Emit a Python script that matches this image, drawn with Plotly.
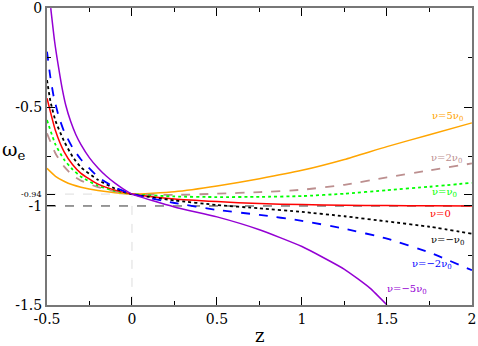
import plotly.graph_objects as go

# omega_e(z) for each nu
z_p5 = [-0.5, -0.45, -0.4, -0.35, -0.3, -0.2, -0.1, 0, 0.25, 0.5, 0.75, 1.0, 1.25, 1.5, 1.75, 2.0]
w_p5 = [-0.81, -0.85, -0.875, -0.893, -0.905, -0.922, -0.933, -0.94, -0.928, -0.899, -0.862, -0.82, -0.765, -0.70, -0.64, -0.58]

z_p2 = [-0.5, -0.45, -0.4, -0.35, -0.3, -0.2, -0.1, 0, 0.25, 0.5, 0.75, 1.0, 1.25, 1.5, 1.75, 2.0]
w_p2 = [-0.633, -0.735, -0.80, -0.845, -0.872, -0.905, -0.926, -0.94, -0.944, -0.938, -0.93, -0.918, -0.893, -0.855, -0.82, -0.785]

z_p1 = [-0.5, -0.45, -0.4, -0.35, -0.3, -0.2, -0.1, 0, 0.25, 0.5, 0.75, 1.0, 1.25, 1.5, 1.75, 2.0]
w_p1 = [-0.566, -0.69, -0.765, -0.815, -0.852, -0.898, -0.924, -0.94, -0.952, -0.955, -0.954, -0.95, -0.938, -0.92, -0.903, -0.883]

z_0 = [-0.5, -0.45, -0.4, -0.35, -0.3, -0.2, -0.1, 0, 0.25, 0.5, 0.75, 1.0, 1.25, 1.5, 1.75, 2.0]
w_0 = [-0.455, -0.62, -0.725, -0.79, -0.835, -0.89, -0.92, -0.94, -0.965, -0.978, -0.988, -0.993, -0.996, -0.998, -0.999, -1.0]

z_m1 = [-0.5, -0.48, -0.45, -0.4, -0.35, -0.3, -0.2, -0.1, 0, 0.25, 0.5, 0.75, 1.0, 1.25, 1.5, 1.75, 2.0]
w_m1 = [-0.364, -0.47, -0.57, -0.672, -0.75, -0.805, -0.868, -0.912, -0.94, -0.972, -0.995, -1.012, -1.03, -1.052, -1.078, -1.105, -1.14]

z_m2 = [-0.5, -0.48, -0.46, -0.43, -0.4, -0.35, -0.3, -0.2, -0.1, 0, 0.25, 0.5, 0.75, 1.0, 1.25, 1.5, 1.75, 2.0]
w_m2 = [-0.22, -0.35, -0.45, -0.55, -0.622, -0.705, -0.765, -0.853, -0.907, -0.94, -0.985, -1.02, -1.045, -1.075, -1.115, -1.165, -1.235, -1.325]

z_m5 = [-0.478, -0.455, -0.43, -0.41, -0.39, -0.36, -0.33, -0.3, -0.25, -0.2, -0.15, -0.1, -0.05, 0, 0.25, 0.5, 0.75, 1.0, 1.25, 1.4, 1.5]
w_m5 = [0.0, -0.17, -0.31, -0.41, -0.49, -0.575, -0.64, -0.69, -0.757, -0.808, -0.85, -0.885, -0.915, -0.94, -1.005, -1.055, -1.12, -1.205, -1.32, -1.415, -1.5]

labels = ["ν=5ν<sub>0</sub>", "ν=2ν<sub>0</sub>", "ν=ν<sub>0</sub>", "ν=0",
          "ν=−ν<sub>0</sub>", "ν=−2ν<sub>0</sub>", "ν=−5ν<sub>0</sub>"]
label_z = [1.857, 1.85, 1.84, 1.815, 1.858, 1.763, 1.617]
label_w = [-0.55, -0.758, -0.934, -1.04, -1.172, -1.298, -1.424]

serif = "DejaVu Serif"

series = [
    (z_p5, w_p5, "#ffa500", "solid", 1.5),
    (z_p2, w_p2, "#bc8f8f", "dash", 1.8),
    (z_p1, w_p1, "#00ff00", "dot", 1.8),
    (z_0, w_0, "#ff0000", "solid", 1.5),
    (z_m1, w_m1, "#000000", "dot", 1.8),
    (z_m2, w_m2, "#0000ff", "dash", 1.8),
    (z_m5, w_m5, "#9400d3", "solid", 1.5),
]

fig = go.Figure()

# reference lines
fig.add_trace(go.Scatter(x=[-0.5, 2], y=[-1, -1], mode="lines",
                         line=dict(color="#333333", dash="dash", width=1), hoverinfo="skip"))
fig.add_trace(go.Scatter(x=[-0.5, 0], y=[-0.94, -0.94], mode="lines",
                         line=dict(color="#dddddd", dash="dash", width=1), hoverinfo="skip"))
fig.add_trace(go.Scatter(x=[0, 0], y=[-1.5, -0.94], mode="lines",
                         line=dict(color="#dddddd", dash="dash", width=1), hoverinfo="skip"))

for (zz, ww, col, dash, lw), lab, lz, lwv in zip(series, labels, label_z, label_w):
    fig.add_trace(go.Scatter(x=zz, y=ww, mode="lines", line_shape="spline",
                             line=dict(color=col, dash=dash, width=lw, smoothing=0.5)))
    fig.add_annotation(x=lz, y=lwv, text=lab, showarrow=False,
                       font=dict(family=serif, size=10, color=col))

fig.add_annotation(xref="paper", yref="y", x=0, y=-0.94, xanchor="right", xshift=-3,
                   text="-0.94", showarrow=False,
                   font=dict(family=serif, size=8, color="black"))
fig.add_annotation(xref="paper", yref="paper", x=0.5, y=0, yanchor="top", yshift=-18,
                   text="z", showarrow=False,
                   font=dict(family=serif, size=18, color="black"))
fig.add_annotation(xref="paper", yref="paper", x=0, y=0.52, xanchor="left", xshift=-47,
                   text="ω<sub>e</sub>", showarrow=False,
                   font=dict(family=serif, size=19, color="black"))

axis_common = dict(showgrid=False, zeroline=False, showline=True, linecolor="#777777",
                   linewidth=2, mirror="ticks", ticks="inside", ticklen=8, tickwidth=1,
                   tickcolor="black", ticklabeloverflow="allow", automargin=False,
                   tickfont=dict(family=serif, size=14, color="black"),
                   minor=dict(ticks="inside", ticklen=4, tickcolor="black", dtick=0.25))

fig.update_xaxes(range=[-0.5, 2.0005], tickvals=[-0.5, 0, 0.5, 1, 1.5, 2],
                 ticktext=["-0.5", "0", "0.5", "1", "1.5", "2"], **axis_common)
fig.update_yaxes(range=[-1.5005, 0.0005], tickvals=[0, -0.5, -0.94, -1, -1.5],
                 ticktext=["0", "-0.5", "", "-1", "-1.5"], **axis_common)

fig.update_layout(width=478, height=346, showlegend=False,
                  plot_bgcolor="white", paper_bgcolor="white",
                  margin=dict(l=47, r=6, t=8, b=41))

fig.write_html("out.html", config={"displayModeBar": False},
               post_script="document.body.style.margin='0';")
